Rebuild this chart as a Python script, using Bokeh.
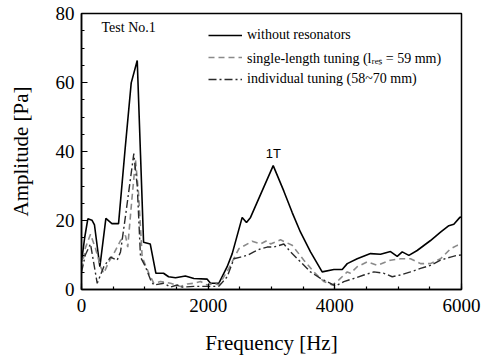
from bokeh.plotting import figure
from bokeh.models import Legend, LegendItem, Label, Range1d, FixedTicker
from bokeh.embed import file_html
from bokeh.resources import INLINE

# without resonators
f_none = [0, 50, 100, 165, 205, 290, 385, 480, 585, 690, 785, 880, 932, 980, 1085, 1175,
          1295, 1375, 1485, 1640, 1775, 1985, 2037, 2168, 2300, 2380, 2537, 2605, 2669,
          3027, 3195, 3327, 3458, 3616, 3800, 3985, 4117, 4196, 4353, 4563, 4721, 4879,
          4985, 5064, 5169, 5300, 5511, 5669, 5800, 5879, 5974, 6000]
a_none = [8, 15, 20.5, 20.1, 18.7, 6.6, 20.6, 19.1, 19.1, 41, 59.9, 66.4, 39, 13.7, 13.2, 4.7,
          4.7, 3.7, 3.4, 3.9, 3.2, 3.0, 1.8, 1.8, 6.6, 10.4, 20.9, 19.4, 20.9,
          35.9, 28.5, 22.3, 16.6, 10.9, 5.1, 5.8, 5.8, 7.5, 8.9, 10.4, 10.2, 11.0,
          9.6, 10.9, 9.9, 11.3, 14.2, 16.6, 18.5, 18.9, 20.9, 21.0]

# single-length tuning (l_res = 59 mm)
f_single = [0, 60, 142, 220, 300, 352, 430, 510, 616, 695, 730, 790, 853, 900, 958, 1063,
            1142, 1247, 1406, 1564, 1669, 1775, 1880, 1985, 2090, 2168, 2326, 2484, 2695,
            2827, 2932, 2985, 3142, 3327, 3511, 3668, 3827, 3959, 4064, 4196, 4248, 4353,
            4511, 4669, 4879, 5037, 5195, 5353, 5511, 5669, 5827, 5932, 6000]
a_single = [6, 12, 16, 12, 6.6, 4.7, 8, 10.4, 14.2, 15.6, 12.3, 25, 37.5, 28, 9.4, 4.7,
            1.8, 2.3, 1.8, 0.9, 1.6, 1.8, 2.3, 1.3, 1.8, 1.3, 6.1, 11.8, 14.0,
            13.2, 14.2, 13.2, 14.4, 12.8, 8.5, 5.1, 2.3, 1.3, 2.8, 5.1, 4.7, 6.6,
            8.0, 7.0, 8.5, 8.9, 8.9, 7.5, 7.5, 8.9, 11.8, 12.8, 13.0]

# individual tuning (58~70 mm)
f_indiv = [0, 60, 142, 248, 352, 458, 563, 616, 700, 826, 880, 932, 1010, 1090, 1142, 1300,
           1406, 1511, 1590, 1775, 1985, 2168, 2300, 2406, 2511, 2616, 2721, 2827, 2932,
           3037, 3195, 3300, 3458, 3616, 3774, 3932, 4011, 4143, 4300, 4458, 4616, 4774,
           4906, 5037, 5195, 5353, 5511, 5669, 5827, 5932, 6000]
a_indiv = [5, 10, 13.2, 1.8, 6.6, 9.4, 8.5, 10.9, 22, 39.4, 30, 9.4, 6.6, 2.8, 1.3, 1.8,
           0.7, 1.3, 0.7, 0.9, 0.9, 0.9, 3.7, 8.9, 9.4, 9.9, 10.9, 11.8, 12.3,
           12.3, 13.2, 10.9, 8.0, 5.1, 3.2, 1.8, 1.0, 2.3, 3.2, 4.2, 5.1, 4.7,
           3.7, 4.2, 5.1, 6.1, 7.0, 8.5, 9.4, 9.9, 10.0]

x_ticks = [0, 2000, 4000, 6000]
y_ticks = [0, 20, 40, 60, 80]

serif = "Liberation Serif"

p = figure(width=487, height=357, output_backend="svg", toolbar_location=None,
           x_range=Range1d(0, 6000), y_range=Range1d(0, 80),
           min_border_left=81, min_border_right=26, min_border_top=13, min_border_bottom=64)
p.grid.visible = False
p.background_fill_color = "white"
p.outline_line_color = "black"
p.outline_line_width = 1.5

for ax in (p.xaxis[0], p.yaxis[0]):
    ax.axis_line_width = 1.5
    ax.major_tick_in = 6
    ax.major_tick_out = 0
    ax.minor_tick_in = 3
    ax.minor_tick_out = 0
    ax.major_tick_line_width = 1.2
    ax.minor_tick_line_width = 1.2
    ax.major_label_text_font = serif
    ax.major_label_text_font_size = "19px"
    ax.major_label_text_color = "black"
    ax.axis_label_text_font = serif
    ax.axis_label_text_font_size = "21px"
    ax.axis_label_text_font_style = "normal"
    ax.axis_label_text_color = "black"

p.xaxis[0].ticker = FixedTicker(ticks=x_ticks, minor_ticks=list(range(0, 6001, 500)))
p.yaxis[0].ticker = FixedTicker(ticks=y_ticks, minor_ticks=list(range(0, 81, 5)))
p.xaxis[0].axis_label = "Frequency [Hz]"
p.yaxis[0].axis_label = "Amplitude [Pa]"
p.xaxis[0].major_label_standoff = 9
p.yaxis[0].major_label_standoff = 7
p.xaxis[0].axis_label_standoff = 16
p.yaxis[0].axis_label_standoff = 20

r1 = p.line(f_none, a_none, line_color="black", line_width=1.6)
r2 = p.line(f_single, a_single, line_color="#8a8a8a", line_width=1.6, line_dash="6 4")
r3 = p.line(f_indiv, a_indiv, line_color="#2a2a2a", line_width=1.4, line_dash="8 3 2 3")

legend = Legend(items=[
    LegendItem(label="without resonators", renderers=[r1]),
    LegendItem(label="single-length tuning (lᵣₑₛ = 59 mm)", renderers=[r2]),
    LegendItem(label="individual tuning (58~70 mm)", renderers=[r3]),
], location=(127, 200), padding=0, margin=0, spacing=2, label_height=20, glyph_height=20,
    glyph_width=34, label_standoff=5, border_line_alpha=0, background_fill_alpha=0,
    label_text_font=serif, label_text_font_size="14px", label_text_color="black")
p.add_layout(legend)

p.add_layout(Label(x=316, y=76, text="Test No.1", text_font=serif, text_font_size="14px",
                   text_baseline="middle", text_color="black"))
p.add_layout(Label(x=3030, y=39.5, text="1T", text_font="Liberation Sans", text_font_size="13px",
                   text_baseline="middle", text_align="center", text_color="black"))

open("out.html", "w").write(file_html(p, INLINE))
